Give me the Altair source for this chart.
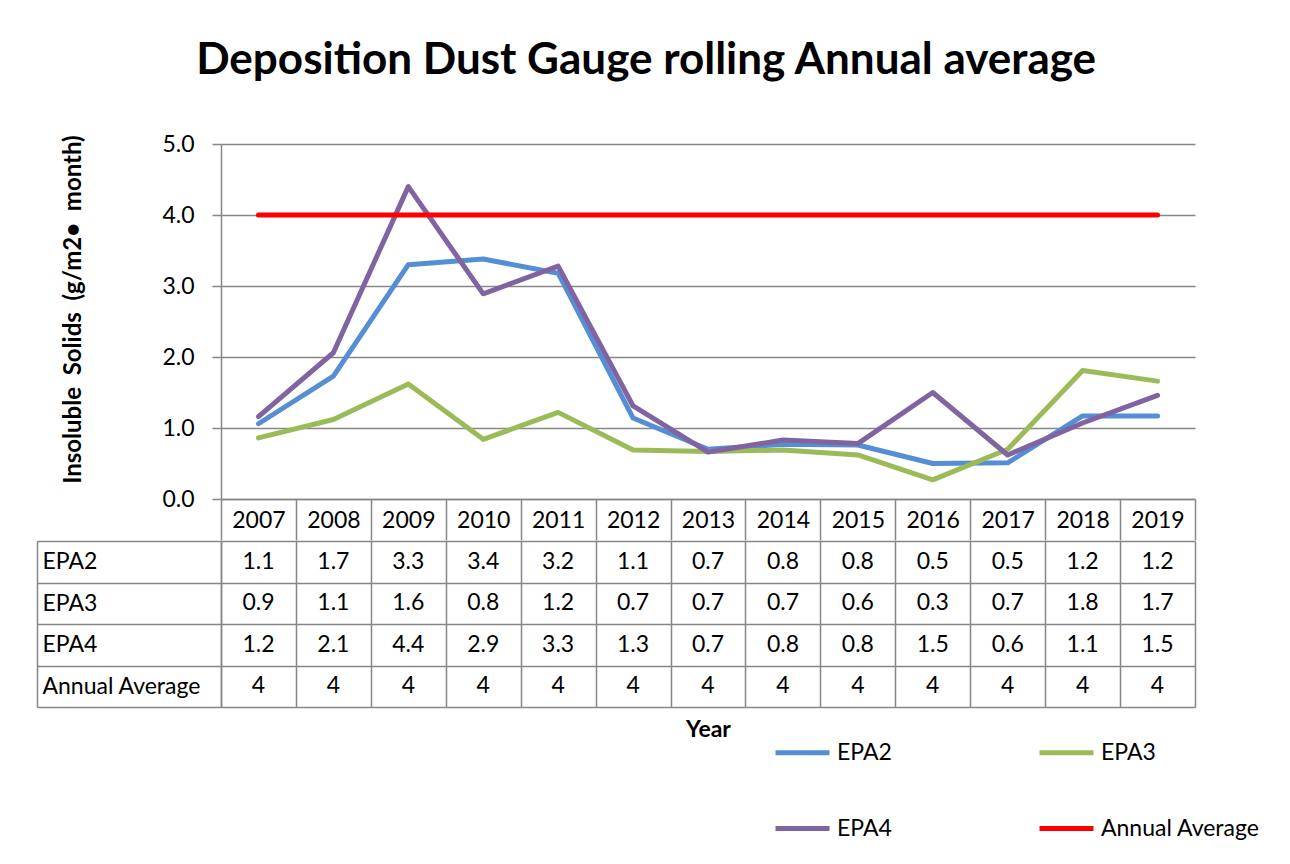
import altair as alt
import pandas as pd

FONT = "Lato"
GRID = "#878787"
FS = 23

years = [2007, 2008, 2009, 2010, 2011, 2012, 2013, 2014, 2015, 2016, 2017, 2018, 2019]
epa2 = [1.06, 1.73, 3.30, 3.38, 3.18, 1.14, 0.70, 0.77, 0.76, 0.50, 0.51, 1.17, 1.17]
epa3 = [0.86, 1.12, 1.62, 0.84, 1.22, 0.69, 0.67, 0.69, 0.62, 0.27, 0.70, 1.81, 1.66]
epa4 = [1.16, 2.06, 4.40, 2.89, 3.28, 1.31, 0.66, 0.83, 0.78, 1.50, 0.62, 1.07, 1.46]
annual = [4, 4, 4, 4, 4, 4, 4, 4, 4, 4, 4, 4, 4]

series_names = ["EPA2", "EPA3", "EPA4", "Annual Average"]
series_values = [epa2, epa3, epa4, annual]
series_colors = ["#558ED5", "#9BBB59", "#8064A2", "#FF0000"]

rows = []
for name, vals in zip(series_names, series_values):
    for yr, v in zip(years, vals):
        label = f"{v:g}" if name == "Annual Average" else f"{v:.1f}"
        rows.append({"year": str(yr), "series": name, "value": v, "label": label})
df = pd.DataFrame(rows)
year_labels = [str(y) for y in years]

NB = "\u00a0"
y_title = f"Insoluble {NB}Solids {NB}(g/m2•{NB} month)"

band = alt.Scale(type="band", domain=year_labels, paddingInner=0, paddingOuter=0)

lines = alt.Chart(df).mark_line(strokeWidth=5, strokeCap="round", strokeJoin="round").encode(
    x=alt.X("year:O", bandPosition=0.5, scale=band,
            axis=alt.Axis(title=None, labelAngle=0, tickBand="extent", tickSize=41,
                          tickColor=GRID, tickWidth=1.5, domainColor=GRID, domainWidth=1.5,
                          labelPadding=-20, labelBaseline="middle", labelFontSize=FS,
                          labelColor="black", grid=False)),
    y=alt.Y("value:Q", scale=alt.Scale(domain=[0, 5], nice=False),
            axis=alt.Axis(values=[0, 1, 2, 3, 4, 5], format=".1f", grid=True, gridColor=GRID,
                          gridWidth=1.5, domainColor=GRID, domainWidth=1.5, tickColor=GRID,
                          tickWidth=1.5, tickSize=9, labelPadding=18, labelFontSize=FS,
                          labelColor="black",
                          title=y_title, titleFontSize=24,
                          titleFontWeight="bold", titleColor="black", titleX=-148, titleY=165,
                          titleAngle=270, titleAlign="center", titleBaseline="middle")),
    color=alt.Color("series:N", sort=series_names,
                    scale=alt.Scale(domain=series_names, range=series_colors),
                    legend=alt.Legend(title=None, orient="none", legendX=552, legendY=579,
                                      columns=2, direction="horizontal",
                                      symbolType="stroke", symbolStrokeWidth=5,
                                      symbolSize=2916, labelFontSize=FS, labelColor="black",
                                      rowPadding=34, columnPadding=137, labelOffset=5)),
).properties(width=974, height=355)

table = alt.Chart(df).mark_text(fontSize=FS, font=FONT, color="black").encode(
    x=alt.X("year:O", scale=band,
            axis=alt.Axis(title="Year", labels=False, ticks=False, domain=False, grid=True,
                          gridColor=GRID, gridWidth=1.5, tickBand="extent",
                          titleFontWeight="bold", titleFontSize=FS, titleColor="black",
                          titlePadding=11)),
    y=alt.Y("series:N", sort=series_names,
            scale=alt.Scale(type="band", domain=series_names, paddingInner=0, paddingOuter=0),
            axis=alt.Axis(title=None, tickBand="extent", tickSize=184, tickColor=GRID,
                          tickWidth=1.5, labelAlign="left", labelPadding=-5, labelFontSize=FS,
                          labelColor="black", domainColor=GRID, domainWidth=1.5, grid=True,
                          gridColor=GRID, gridWidth=1.5)),
    text="label:N",
)

border = alt.Chart(df).mark_point(opacity=0).encode(
    y=alt.Y("series:N", sort=series_names,
            scale=alt.Scale(type="band", domain=series_names, paddingInner=0, paddingOuter=0),
            axis=alt.Axis(orient="left", offset=184, labels=False, ticks=False, grid=False,
                          domain=True, domainColor=GRID, domainWidth=1.5, title=None)),
)

table_panel = alt.layer(table, border).resolve_axis(y="independent").properties(width=974, height=166)

chart = alt.vconcat(lines, table_panel, spacing=-11).properties(
    title=alt.TitleParams("Deposition Dust Gauge rolling Annual average", fontSize=44,
                          fontWeight="bold", font=FONT, anchor="middle", color="black",
                          offset=50, dx=-2),
    padding={"left": 28, "top": 31, "right": 5, "bottom": 5},
).configure(font=FONT).configure_view(strokeWidth=0).configure_axis(
    labelFont=FONT, titleFont=FONT
).configure_legend(labelFont=FONT)

chart.save("out.html", embed_options={"renderer": "svg", "actions": False})
